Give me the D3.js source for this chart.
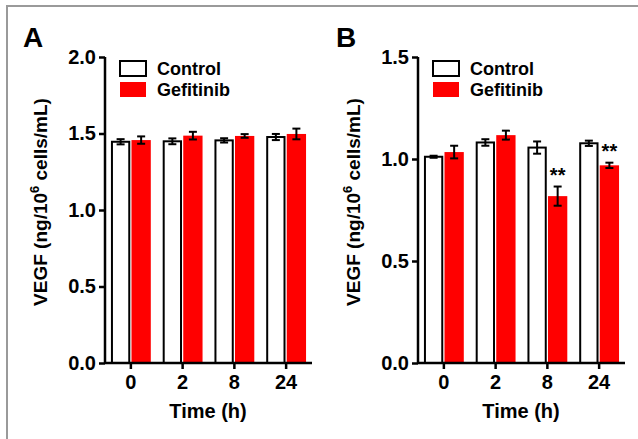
<!DOCTYPE html>
<html>
<head>
<meta charset="utf-8">
<script src="https://cdn.jsdelivr.net/npm/d3@7"></script>
<style>
  body { margin: 0; background: #fff; }
  svg { display: block; font-family: "Liberation Sans", Arial, sans-serif; font-weight: bold; }
</style>
</head>
<body>
<div id="chart"></div>
<script>
const width = 638;
const height = 439;

// dados
const times = ["0", "2", "8", "24"];
const series = ["Control", "Gefitinib"];

const controlA = [1.446, 1.449, 1.455, 1.477];
const controlAErr = [0.017, 0.019, 0.014, 0.02];
const gefitinibA = [1.457, 1.486, 1.484, 1.497];
const gefitinibAErr = [0.024, 0.025, 0.012, 0.035];

const controlB = [1.011, 1.081, 1.056, 1.077];
const controlBErr = [0.005, 0.016, 0.03, 0.013];
const gefitinibB = [1.034, 1.117, 0.818, 0.969];
const gefitinibBErr = [0.031, 0.022, 0.047, 0.013];
const starsB = ["", "", "**", "**"];

const yTicksA = [0, 0.5, 1.0, 1.5, 2.0];
const yTicksB = [0, 0.5, 1.0, 1.5];

const colors = { Control: "#fff", Gefitinib: "#ff0000" };

const svg = d3.select("#chart").append("svg")
  .attr("width", width)
  .attr("height", height);

// moldura cinza
svg.append("path")
  .attr("d", `M7,${height} V6 H${width}`)
  .attr("fill", "none")
  .attr("stroke", "#9a9a9a")
  .attr("stroke-width", 2);

function panel(opt) {
  const g = svg.append("g");

  const y = d3.scaleLinear().domain(opt.domain).range([363, 57]);
  const x = d3.scaleBand().domain(times)
    .range([opt.x0, opt.x0 + 207])
    .paddingInner(0.23).paddingOuter(0.115);
  const xs = d3.scaleBand().domain(series)
    .range([0, x.bandwidth()])
    .paddingInner(0.06);

  const rows = [];
  times.forEach((t, i) => {
    rows.push({ t, s: "Control", v: opt.control[i], e: opt.controlErr[i] });
    rows.push({ t, s: "Gefitinib", v: opt.gef[i], e: opt.gefErr[i], star: opt.stars ? opt.stars[i] : "" });
  });

  // barras
  g.selectAll(".bar").data(rows).enter().append("rect")
    .attr("x", d => x(d.t) + xs(d.s) + (d.s === "Control" ? 1 : 0))
    .attr("y", d => y(d.v))
    .attr("width", d => xs.bandwidth() - (d.s === "Control" ? 2 : 0))
    .attr("height", d => y(0) - y(d.v))
    .attr("fill", d => colors[d.s])
    .attr("stroke", d => d.s === "Control" ? "#000" : "none")
    .attr("stroke-width", 2);

  // barras de erro
  const err = g.selectAll(".err").data(rows).enter().append("g")
    .attr("stroke", "#000").attr("stroke-width", 2);
  err.append("line")
    .attr("x1", d => x(d.t) + xs(d.s) + xs.bandwidth() / 2)
    .attr("x2", d => x(d.t) + xs(d.s) + xs.bandwidth() / 2)
    .attr("y1", d => y(d.v - d.e))
    .attr("y2", d => y(d.v + d.e));
  [-1, 1].forEach(sgn => {
    err.append("line")
      .attr("x1", d => x(d.t) + xs(d.s) + xs.bandwidth() / 2 - 4)
      .attr("x2", d => x(d.t) + xs(d.s) + xs.bandwidth() / 2 + 4)
      .attr("y1", d => y(d.v + sgn * d.e))
      .attr("y2", d => y(d.v + sgn * d.e));
  });

  // asteriscos
  g.selectAll(".star").data(rows.filter(d => d.star)).enter().append("text")
    .attr("x", d => x(d.t) + xs(d.s) + xs.bandwidth() / 2)
    .attr("y", d => y(d.v + d.e) - 5)
    .attr("text-anchor", "middle")
    .attr("font-size", 20)
    .text(d => d.star);

  // eixo y
  const yAxis = g.append("g")
    .attr("transform", `translate(${opt.x0},0)`)
    .call(d3.axisLeft(y).tickValues(opt.ticks).tickFormat(d3.format(".1f")).tickSize(6).tickPadding(3));
  // eixo x
  const xAxis = g.append("g")
    .attr("transform", `translate(0,${y(0)})`)
    .call(d3.axisBottom(x).tickSize(6).tickPadding(6));
  xAxis.select(".domain").attr("d", `M${opt.x0},0H${opt.x0 + 207}`);
  yAxis.select(".domain").attr("d", `M0,${y(opt.domain[1])}V${y(0)}`);
  [yAxis, xAxis].forEach(a => {
    a.selectAll("path, line").attr("stroke", "#000").attr("stroke-width", 2.5);
    a.selectAll("text").attr("font-size", 20).attr("font-weight", "bold")
      .attr("font-family", "'Liberation Sans', Arial, sans-serif").attr("fill", "#000");
  });

  // títulos
  g.append("text")
    .attr("x", opt.x0 + 103).attr("y", 418)
    .attr("text-anchor", "middle").attr("font-size", 20)
    .text("Time (h)");
  const yl = g.append("text")
    .attr("transform", `translate(${opt.x0 - 58},202) rotate(-90)`)
    .attr("text-anchor", "middle").attr("font-size", 19);
  yl.append("tspan").text("VEGF (ng/10");
  yl.append("tspan").attr("font-size", 13).attr("dy", -8).text("6");
  yl.append("tspan").attr("dy", 8).text(" cells/mL)");

  g.append("text")
    .attr("x", opt.x0 - 82).attr("y", 47)
    .attr("font-size", 28)
    .text(opt.letter);

  // legenda
  const leg = g.selectAll(".legend").data(series).enter().append("g")
    .attr("transform", (d, i) => `translate(${opt.x0 + 15},${61 + i * 21})`);
  leg.append("rect")
    .attr("x", 0).attr("y", 0)
    .attr("width", 26).attr("height", 15)
    .attr("fill", d => colors[d])
    .attr("stroke", d => d === "Control" ? "#000" : "none")
    .attr("stroke-width", 2);
  leg.append("text")
    .attr("x", 37).attr("y", 14)
    .attr("font-size", 18)
    .text(d => d);
}

panel({ letter: "A", x0: 105, domain: [0, 2], ticks: yTicksA,
  control: controlA, controlErr: controlAErr, gef: gefitinibA, gefErr: gefitinibAErr });
panel({ letter: "B", x0: 418, domain: [0, 1.5], ticks: yTicksB,
  control: controlB, controlErr: controlBErr, gef: gefitinibB, gefErr: gefitinibBErr, stars: starsB });
</script>
</body>
</html>
